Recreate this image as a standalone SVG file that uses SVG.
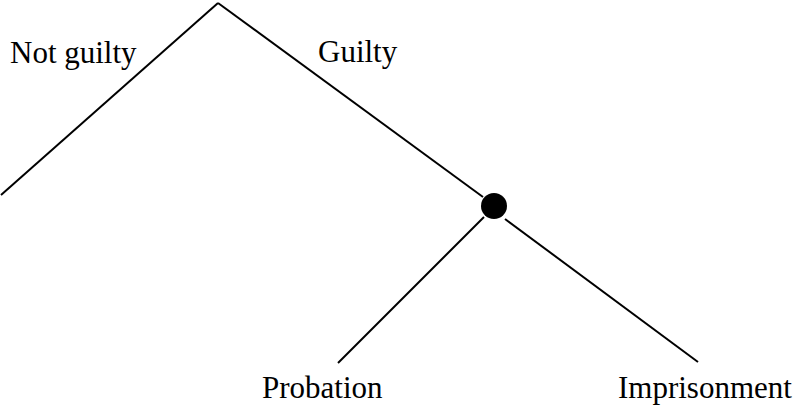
<svg xmlns="http://www.w3.org/2000/svg" width="797" height="407" viewBox="0 0 797 407">
<style>
.e{stroke:#000;stroke-width:2;fill:none}
.t{font-family:"Liberation Serif","Times New Roman",serif;font-size:31px;fill:#000}
</style>
<rect width="797" height="407" fill="#fff"/>
<g id="connectors">
<line class="e" x1="218" y1="3" x2="1" y2="195"/>
<line class="e" x1="218" y1="3" x2="483" y2="197"/>
<line class="e" x1="484" y1="217" x2="338" y2="363"/>
<line class="e" x1="505" y1="219" x2="698" y2="362"/>
</g>
<g id="root"></g>
<g id="chance"><circle cx="494" cy="206" r="13" fill="#000"/></g>
<g id="label-not-guilty"><text class="t" x="10" y="63">Not guilty</text></g>
<g id="label-guilty"><text class="t" x="318" y="62">Guilty</text></g>
<g id="probation"><text class="t" x="262" y="398">Probation</text></g>
<g id="imprisonment"><text class="t" x="618" y="398">Imprisonment</text></g>
</svg>
